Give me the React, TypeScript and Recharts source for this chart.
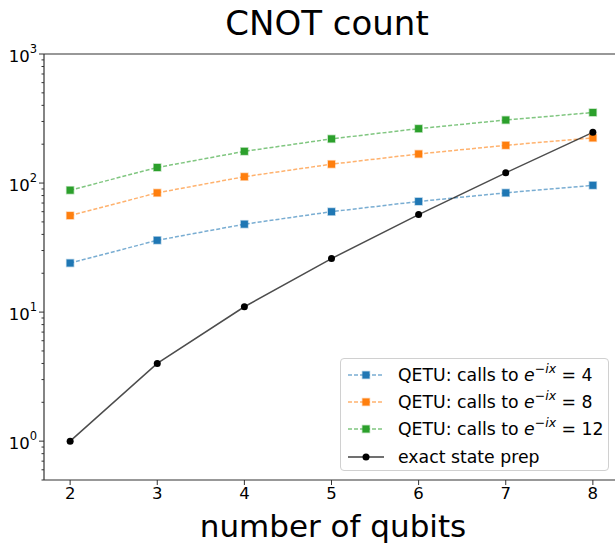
import React from 'react';
import { Line, LineChart, ReferenceLine, XAxis, YAxis } from 'recharts';

const qubits = [2, 3, 4, 5, 6, 7, 8];
const qetu4 = [24, 36, 48, 60, 72, 84, 96];
const qetu8 = [56, 84, 112, 140, 168, 196, 224];
const qetu12 = [88, 132, 176, 220, 264, 308, 352];
const exactPrep = [1, 4, 11, 26, 57, 120, 247];

const majorTicks = [1, 10, 100, 1000];
const minorTicks = [
  0.5, 0.6, 0.7, 0.8, 0.9,
  2, 3, 4, 5, 6, 7, 8, 9,
  20, 30, 40, 50, 60, 70, 80, 90,
  200, 300, 400, 500, 600, 700, 800, 900,
];
const xTicks = [2, 3, 4, 5, 6, 7, 8];

const colors = { blue: '#1f77b4', orange: '#ff7f0e', green: '#2ca02c', black: '#000000' };
const FONT = '"DejaVu Sans", sans-serif';
const AXIS_X = 44; // left spine, page coords (wrapper is absolutely placed at 0,0)

const rows = qubits.map((n, i) => ({
  n,
  q4: qetu4[i],
  q8: qetu8[i],
  q12: qetu12[i],
  exact: exactPrep[i],
}));

const series = [
  { key: 'q4', color: colors.blue, calls: '4' },
  { key: 'q8', color: colors.orange, calls: '8' },
  { key: 'q12', color: colors.green, calls: '12' },
];

function YTick(props: any) {
  const { y, payload } = props;
  const v = payload.value;
  const major = majorTicks.includes(v);
  return (
    <g>
      <line x1={AXIS_X} x2={AXIS_X - (major ? 5 : 2.5)} y1={y} y2={y} stroke="#333" strokeWidth={1} />
      {major && (
        <text x={AXIS_X - 7} y={y + 7.5} textAnchor="end" fontFamily={FONT} fontSize={16.5} fill="#000">
          10
          <tspan dy={-9} fontSize={11.5}>
            {Math.round(Math.log10(v))}
          </tspan>
        </text>
      )}
    </g>
  );
}

const squareDot = (color: string) => (p: any) => (
  <rect
    key={`sq-${color}-${p.index}`}
    x={p.cx - 3.5}
    y={p.cy - 3.5}
    width={7}
    height={7}
    fill={color}
    stroke={color}
    strokeOpacity={0.35}
    strokeWidth={1.5}
  />
);

function LegendBox() {
  const sample = (color: string, dashed: boolean, square: boolean) => (
    <svg width={36} height={12} style={{ display: 'block', flex: 'none' }}>
      <line
        x1={0}
        x2={36}
        y1={6}
        y2={6}
        stroke={color}
        strokeOpacity={dashed ? 0.6 : 0.75}
        strokeWidth={1.5}
        strokeDasharray={dashed ? '4 2' : undefined}
      />
      {square ? (
        <rect x={14.5} y={2.5} width={7} height={7} fill={color} stroke={color} strokeOpacity={0.35} strokeWidth={1.5} />
      ) : (
        <circle cx={18} cy={6} r={3.5} fill={color} />
      )}
    </svg>
  );
  const row = (key: string, icon: React.ReactNode, label: React.ReactNode) => (
    <div key={key} style={{ display: 'flex', alignItems: 'center', height: 27.3 }}>
      {icon}
      <span style={{ marginLeft: 14, whiteSpace: 'nowrap' }}>{label}</span>
    </div>
  );
  return (
    <div
      style={{
        position: 'absolute',
        left: 340,
        top: 358,
        width: 269,
        height: 113,
        boxSizing: 'border-box',
        border: '1px solid #d0d0d0',
        borderRadius: 4,
        background: 'rgba(255,255,255,0.85)',
        padding: '2px 0 0 7px',
        fontFamily: FONT,
        fontSize: 17.3,
        lineHeight: '20px',
        color: '#000',
      }}
    >
      {series.map((s) =>
        row(
          s.key,
          sample(s.color, true, true),
          <>
            QETU: calls to <i>e</i>
            <sup style={{ fontSize: 12.5, verticalAlign: 8, lineHeight: 0 }}>
              −<i>ix</i>
            </sup>{' '}
            = {s.calls}
          </>
        )
      )}
      {row('exact', sample(colors.black, false, false), 'exact state prep')}
    </div>
  );
}

export default function App() {
  return (
    <div style={{ position: 'absolute', left: 0, top: 0, width: 615, height: 548, overflow: 'hidden', background: '#fff' }}>
      <LineChart
        width={628}
        height={548}
        data={rows}
        margin={{ top: 54, right: 9, bottom: 38, left: 0 }}
      >
        <XAxis
          dataKey="n"
          type="number"
          domain={[1.7, 8.3]}
          ticks={xTicks}
          tickSize={5}
          tick={{ fontFamily: FONT, fontSize: 16.5, fill: '#000' }}
          tickLine={{ stroke: '#333' }}
          axisLine={{ stroke: '#333', strokeWidth: 1.2 }}
          height={30}
          allowDataOverflow
        />
        <YAxis
          type="number"
          scale="log"
          domain={[0.5, 1000]}
          ticks={[...majorTicks, ...minorTicks]}
          interval={0}
          tick={<YTick />}
          tickLine={false}
          tickSize={0}
          tickMargin={0}
          axisLine={{ stroke: '#333', strokeWidth: 1.2 }}
          width={44}
          allowDataOverflow
        />
        <ReferenceLine y={1000} stroke="#333" strokeWidth={1.2} ifOverflow="extendDomain" />
        {series.map((s) => (
          <Line
            key={s.key}
            dataKey={s.key}
            stroke={s.color}
            strokeOpacity={0.6}
            strokeWidth={1.5}
            strokeDasharray="4 2"
            dot={squareDot(s.color)}
            activeDot={false}
            isAnimationActive={false}
          />
        ))}
        <Line
          dataKey="exact"
          stroke="#000"
          strokeOpacity={0.7}
          strokeWidth={1.5}
          dot={{ r: 3.5, fill: '#000', stroke: '#000', strokeWidth: 0 }}
          activeDot={false}
          isAnimationActive={false}
        />
      </LineChart>
      <LegendBox />
      <svg width={615} height={548} style={{ position: 'absolute', left: 0, top: 0, pointerEvents: 'none' }}>
        <text x={327} y={35} textAnchor="middle" fontFamily={FONT} fontSize={34} fill="#000">
          CNOT count
        </text>
        <text x={333} y={537} textAnchor="middle" fontFamily={FONT} fontSize={31} fill="#000">
          number of qubits
        </text>
      </svg>
    </div>
  );
}
